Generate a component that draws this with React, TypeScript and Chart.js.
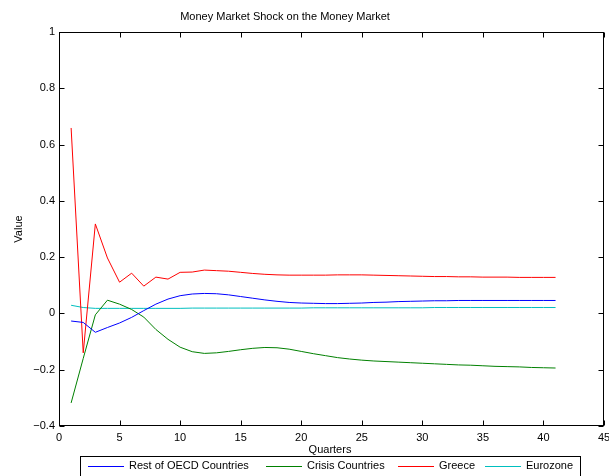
import React, { useEffect, useRef } from "react";
import { Chart, registerables } from "chart.js";

Chart.register(...registerables);

const quarters = [1,2,3,4,5,6,7,8,9,10,11,12,13,14,15,16,17,18,19,20,21,22,23,24,25,26,27,28,29,30,31,32,33,34,35,36,37,38,39,40,41];

const restOfOECD = [-0.027,-0.032,-0.067,-0.05,-0.034,-0.014,0.01,0.033,0.051,0.063,0.069,0.071,0.07,0.066,0.06,0.054,0.048,0.043,0.039,0.037,0.036,0.035,0.035,0.036,0.037,0.039,0.04,0.042,0.043,0.044,0.045,0.045,0.046,0.046,0.046,0.046,0.046,0.046,0.046,0.046,0.046];

const crisisCountries = [-0.318,-0.16,-0.005,0.047,0.033,0.014,-0.013,-0.057,-0.092,-0.12,-0.136,-0.142,-0.14,-0.135,-0.129,-0.124,-0.121,-0.122,-0.127,-0.135,-0.143,-0.15,-0.157,-0.162,-0.166,-0.169,-0.171,-0.173,-0.175,-0.177,-0.179,-0.181,-0.183,-0.184,-0.186,-0.188,-0.189,-0.19,-0.192,-0.193,-0.194];

const greece = [0.659,-0.14,0.318,0.197,0.111,0.143,0.097,0.129,0.122,0.146,0.147,0.154,0.152,0.15,0.146,0.142,0.139,0.137,0.136,0.136,0.136,0.136,0.137,0.137,0.137,0.136,0.135,0.134,0.133,0.132,0.131,0.131,0.13,0.13,0.129,0.129,0.129,0.128,0.128,0.128,0.128];

const eurozone = [0.029,0.021,0.018,0.018,0.018,0.018,0.018,0.018,0.018,0.018,0.019,0.019,0.019,0.019,0.019,0.019,0.019,0.019,0.019,0.019,0.02,0.02,0.02,0.02,0.02,0.02,0.02,0.02,0.02,0.02,0.021,0.021,0.021,0.021,0.021,0.021,0.021,0.021,0.021,0.021,0.021];

const seriesNames = ["Rest of OECD Countries", "Crisis Countries", "Greece", "Eurozone"];
const seriesColors = ["#0000ff", "#008000", "#ff0000", "#00bfbf"];
const xTicks = [0,5,10,15,20,25,30,35,40,45];
const yTicks = [-0.4,-0.2,0,0.2,0.4,0.6,0.8,1];

const FONT = "11px 'Liberation Sans', Arial, Helvetica, sans-serif";

const matlabPlugin = {
  id: "matlab",
  afterDraw(chart: any) {
    const ctx = chart.ctx;
    const a = chart.chartArea;
    const xs = chart.scales.x;
    const ys = chart.scales.y;
    ctx.save();
    ctx.strokeStyle = "#000";
    ctx.lineWidth = 1;
    const L = Math.round(a.left) + 0.5, R = Math.round(a.right) - 0.5;
    const T = Math.round(a.top) + 0.5, B = Math.round(a.bottom) - 0.5;
    ctx.strokeRect(L, T, R - L, B - T);
    ctx.beginPath();
    for (const v of xTicks) {
      const px = Math.round(xs.getPixelForValue(v)) + 0.5;
      ctx.moveTo(px, B); ctx.lineTo(px, B - 5);
      ctx.moveTo(px, T); ctx.lineTo(px, T + 5);
    }
    for (const v of yTicks) {
      const py = Math.round(ys.getPixelForValue(v)) + 0.5;
      ctx.moveTo(L, py); ctx.lineTo(L + 5, py);
      ctx.moveTo(R, py); ctx.lineTo(R - 5, py);
    }
    ctx.stroke();

    ctx.fillStyle = "#000";
    ctx.font = FONT;
    ctx.textAlign = "center";
    ctx.textBaseline = "middle";
    ctx.fillText("Money Market Shock on the Money Market", 285, 17);
    ctx.fillText("Quarters", 330, 450);
    ctx.save();
    ctx.translate(19, (a.top + a.bottom) / 2);
    ctx.rotate(-Math.PI / 2);
    ctx.fillText("Value", 0, 0);
    ctx.restore();

    ctx.fillStyle = "#fff";
    ctx.fillRect(80, 456, 501, 30);
    ctx.strokeRect(80.5, 456.5, 500, 30);
    const lineStarts = [88, 266, 398, 485];
    ctx.textAlign = "left";
    for (let i = 0; i < seriesNames.length; i++) {
      const x0 = lineStarts[i];
      ctx.strokeStyle = seriesColors[i];
      ctx.beginPath();
      ctx.moveTo(x0, 466.5);
      ctx.lineTo(x0 + 36, 466.5);
      ctx.stroke();
      ctx.fillStyle = "#000";
      ctx.fillText(seriesNames[i], x0 + 41, 466);
    }
    ctx.restore();
  },
};

export default function App() {
  const ref = useRef<HTMLCanvasElement | null>(null);
  useEffect(() => {
    if (!ref.current) return;
    const seriesValues = [restOfOECD, crisisCountries, greece, eurozone];
    const chart = new Chart(ref.current, {
      type: "line",
      data: {
        datasets: seriesValues.map((vals, i) => ({
          label: seriesNames[i],
          data: vals.map((v, j) => ({ x: quarters[j], y: v })),
          borderColor: seriesColors[i],
          backgroundColor: seriesColors[i],
          borderWidth: 1,
          pointRadius: 0,
          tension: 0,
          fill: false,
        })),
      },
      options: {
        animation: false,
        responsive: false,
        events: [],
        layout: { padding: { left: 0, top: 32, right: 5, bottom: 0 }, autoPadding: false },
        plugins: { legend: { display: false }, title: { display: false }, tooltip: { enabled: false } },
        scales: {
          x: {
            type: "linear",
            min: 0,
            max: 45,
            grid: { display: false, drawTicks: false },
            border: { display: false },
            afterFit: (s: any) => { s.height = 50; s.paddingLeft = 0; s.paddingRight = 0; },
            afterBuildTicks: (s: any) => { s.ticks = xTicks.map((v) => ({ value: v })); },
            ticks: {
              padding: 5,
              color: "#000",
              font: { family: "'Liberation Sans', Arial, Helvetica, sans-serif", size: 11 },
              maxRotation: 0,
              autoSkip: false,
              callback: (v: any) => String(v),
            },
          },
          y: {
            type: "linear",
            min: -0.4,
            max: 1,
            grid: { display: false, drawTicks: false },
            border: { display: false },
            afterFit: (s: any) => { s.width = 59; s.paddingTop = 0; s.paddingBottom = 0; },
            afterBuildTicks: (s: any) => { s.ticks = yTicks.map((v) => ({ value: v })); },
            ticks: {
              padding: 4,
              color: "#000",
              font: { family: "'Liberation Sans', Arial, Helvetica, sans-serif", size: 11 },
              autoSkip: false,
              callback: (v: any) => {
                const r = Math.round(Number(v) * 10) / 10;
                return r < 0 ? "\u2212" + String(-r) : String(r);
              },
            },
          },
        },
      },
      plugins: [matlabPlugin],
    });
    return () => chart.destroy();
  }, []);
  return (
    <div style={{ position: "fixed", left: 0, top: 0, width: 609, height: 476, background: "#fff" }}>
      <canvas ref={ref} width={609} height={476} style={{ display: "block" }} />
    </div>
  );
}
